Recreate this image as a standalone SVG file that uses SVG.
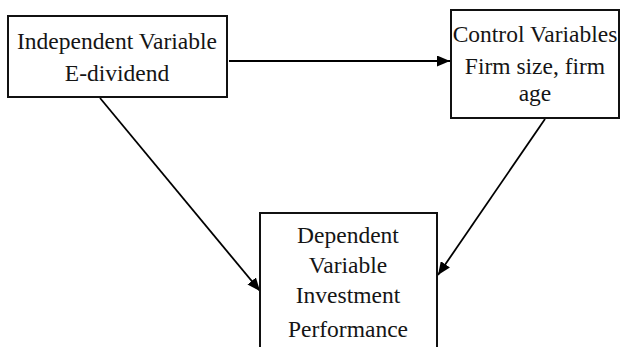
<svg xmlns="http://www.w3.org/2000/svg" width="621" height="347" viewBox="0 0 621 347">
  <style>
    .box { fill: #ffffff; stroke: #111111; stroke-width: 2; }
    .lbl { font-family: 'Liberation Serif', 'Times New Roman', serif; font-size: 23.5px; fill: #151515; text-anchor: middle; }
    .edge { stroke: #000000; stroke-width: 1.8; fill: none; marker-end: url(#arrow); }
  </style>
  <defs>
    <marker id="arrow" viewBox="0 0 13 11" refX="13" refY="5.5" markerWidth="13" markerHeight="11" markerUnits="userSpaceOnUse" orient="auto">
      <path d="M0,0 L13,5.5 L0,11 Z" fill="#000000"/>
    </marker>
  </defs>
  <rect width="621" height="347" fill="#ffffff"/>

  <g id="connectors">
    <line class="edge" x1="229" y1="61" x2="450" y2="61"/>
    <line class="edge" x1="100" y1="98" x2="260" y2="291"/>
    <line class="edge" x1="545" y1="119" x2="438" y2="275"/>
  </g>

  <g id="independent">
    <rect class="box" x="8" y="16" width="219" height="81"/>
    <text class="lbl" x="117" y="48.5">Independent Variable</text>
    <text class="lbl" x="117" y="80.5">E-dividend</text>
  </g>

  <g id="control">
    <rect class="box" x="451" y="10" width="168" height="108"/>
    <text class="lbl" x="535" y="42">Control Variables</text>
    <text class="lbl" x="535" y="74">Firm size, firm</text>
    <text class="lbl" x="535" y="101">age</text>
  </g>

  <g id="dependent">
    <rect class="box" x="260" y="213" width="177" height="140"/>
    <text class="lbl" x="348" y="243">Dependent</text>
    <text class="lbl" x="348" y="273">Variable</text>
    <text class="lbl" x="348" y="303">Investment</text>
    <text class="lbl" x="348" y="337">Performance</text>
  </g>
</svg>
